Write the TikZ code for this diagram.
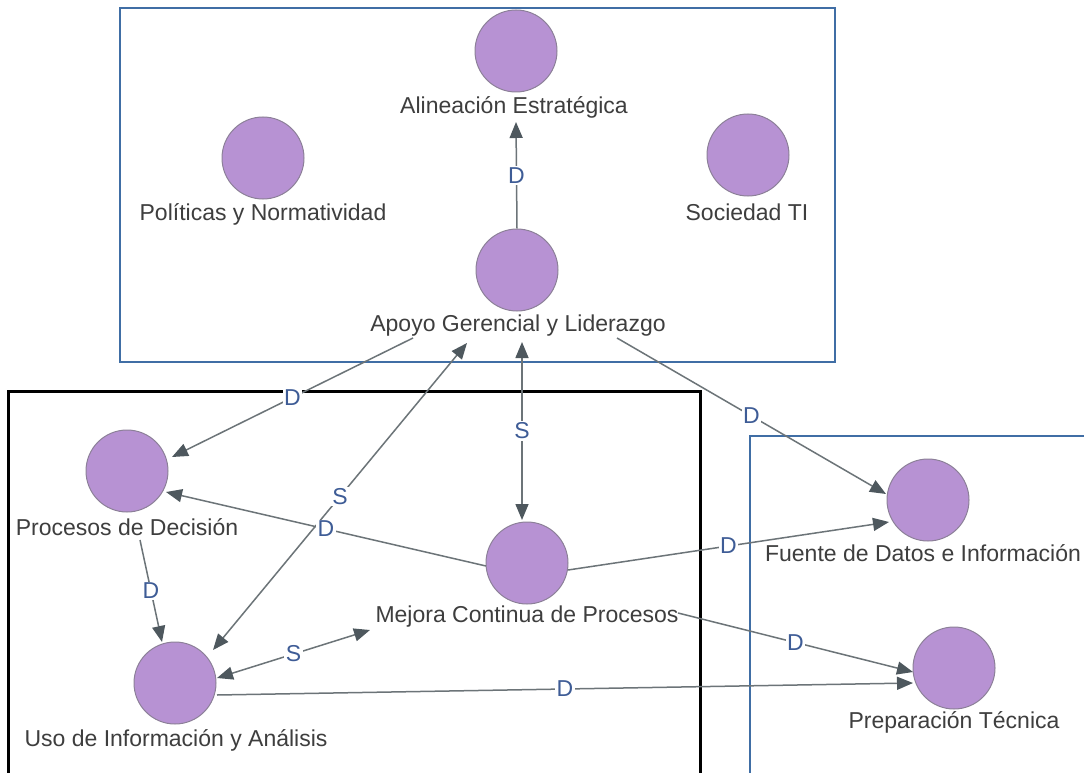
\documentclass[tikz,border=0pt]{standalone}
\usepackage{fontspec}
\setmainfont{Liberation Sans}
\usetikzlibrary{arrows.meta,calc}

\definecolor{conceptfill}{RGB}{183,146,211}
\definecolor{conceptedge}{RGB}{140,128,152}
\definecolor{edgegray}{RGB}{108,116,120}
\definecolor{tipgray}{RGB}{78,88,94}
\definecolor{relblue}{RGB}{62,92,150}
\definecolor{groupblue}{RGB}{64,110,165}
\definecolor{labelgray}{RGB}{62,62,62}

\begin{document}
\begin{tikzpicture}[x=1pt,y=-1pt,
  concept/.style={circle, fill=conceptfill, draw=conceptedge, line width=1pt,
    minimum size=82pt, inner sep=0pt},
  caption/.style={font=\fontsize{23}{25}\selectfont, text=labelgray, inner sep=0pt},
  reltag/.style={font=\fontsize{23}{25}\selectfont, text=relblue, fill=white,
    inner sep=1.5pt},
  tip/.tip={Triangle[length=16pt,width=13pt,color=tipgray]},
  oneway/.style={draw=edgegray, line width=1.5pt, -tip},
  twoway/.style={draw=edgegray, line width=1.5pt, tip-tip},
  groupframe/.style={draw=groupblue, line width=2.5pt},
  coreframe/.style={draw=black, line width=3pt}
]
\useasboundingbox (0,0) rectangle (1084,773);
\fill[white] (0,0) rectangle (1084,773);

% group frames
\draw[groupframe] (120,8) rectangle (835,362);
\draw[coreframe] (8,391) rectangle (700,820);
\draw[groupframe] (750,436) rectangle (1130,820);

% concepts
\node[concept] (alin)   at (516,51)  {};
\node[concept] (poli)   at (263,158) {};
\node[concept] (soc)    at (748,155) {};
\node[concept] (apoyo)  at (517,270) {};
\node[concept] (proc)   at (127,471) {};
\node[concept] (mejora) at (527,563) {};
\node[concept] (uso)    at (175,683) {};
\node[concept] (fuente) at (928,500) {};
\node[concept] (prep)   at (954,668) {};

% concept names
\node[caption] (alinL)   at ($(alin)+(-2,56)$)   {Alineación Estratégica};
\node[caption] (poliL)   at ($(poli)+(0,56)$)    {Políticas y Normatividad};
\node[caption] (socL)    at ($(soc)+(-1,57)$)    {Sociedad TI};
\node[caption] (apoyoL)  at ($(apoyo)+(1,56)$)   {Apoyo Gerencial y Liderazgo};
\node[caption] (procL)   at ($(proc)+(0,56)$)    {Procesos de Decisión};
\node[caption] (mejoraL) at ($(mejora)+(0,54)$)  {Mejora Continua de Procesos};
\node[caption] (usoL)    at ($(uso)+(1,57)$)     {Uso de Información y Análisis};
\node[caption] (fuenteL) at ($(fuente)+(-5,53)$) {Fuente de Datos e Información};
\node[caption] (prepL)   at ($(prep)+(0,54)$)    {Preparación Técnica};

% relations
\draw[oneway] (apoyo.north) -- node[reltag] {D} ($(alin)+(0,71)$);
\draw[oneway] ($(apoyo)+(-104,68)$) -- node[reltag] {D} ($(proc)+(45,-14)$);
\draw[twoway] ($(uso)+(38,-33)$) -- node[reltag] {S} ($(apoyo)+(-50,73)$);
\draw[twoway] ($(apoyo)+(5,72)$) -- node[reltag] {S} ($(mejora)+(-5,-43)$);
\draw[oneway] ($(apoyo)+(100,68)$) -- node[reltag] {D} ($(fuente)+(-42,-6)$);
\draw[oneway] ($(mejora)+(-41,3)$) -- node[reltag] {D} ($(proc)+(39,21)$);
\draw[oneway] ($(mejora)+(41,7)$) -- node[reltag] {D} ($(fuente)+(-39,22)$);
\draw[oneway] ($(mejora)+(151,50)$) -- node[reltag] {D} ($(prep)+(-41,4)$);
\draw[oneway] ($(proc)+(13,69)$) -- node[reltag] {D} ($(uso)+(-13,-41)$);
\draw[twoway] ($(uso)+(42,-5)$) -- node[reltag] {S} ($(mejora)+(-157,67)$);
\draw[oneway] ($(uso)+(42,12)$) -- node[reltag] {D} ($(prep)+(-41,15)$);
\end{tikzpicture}
\end{document}
